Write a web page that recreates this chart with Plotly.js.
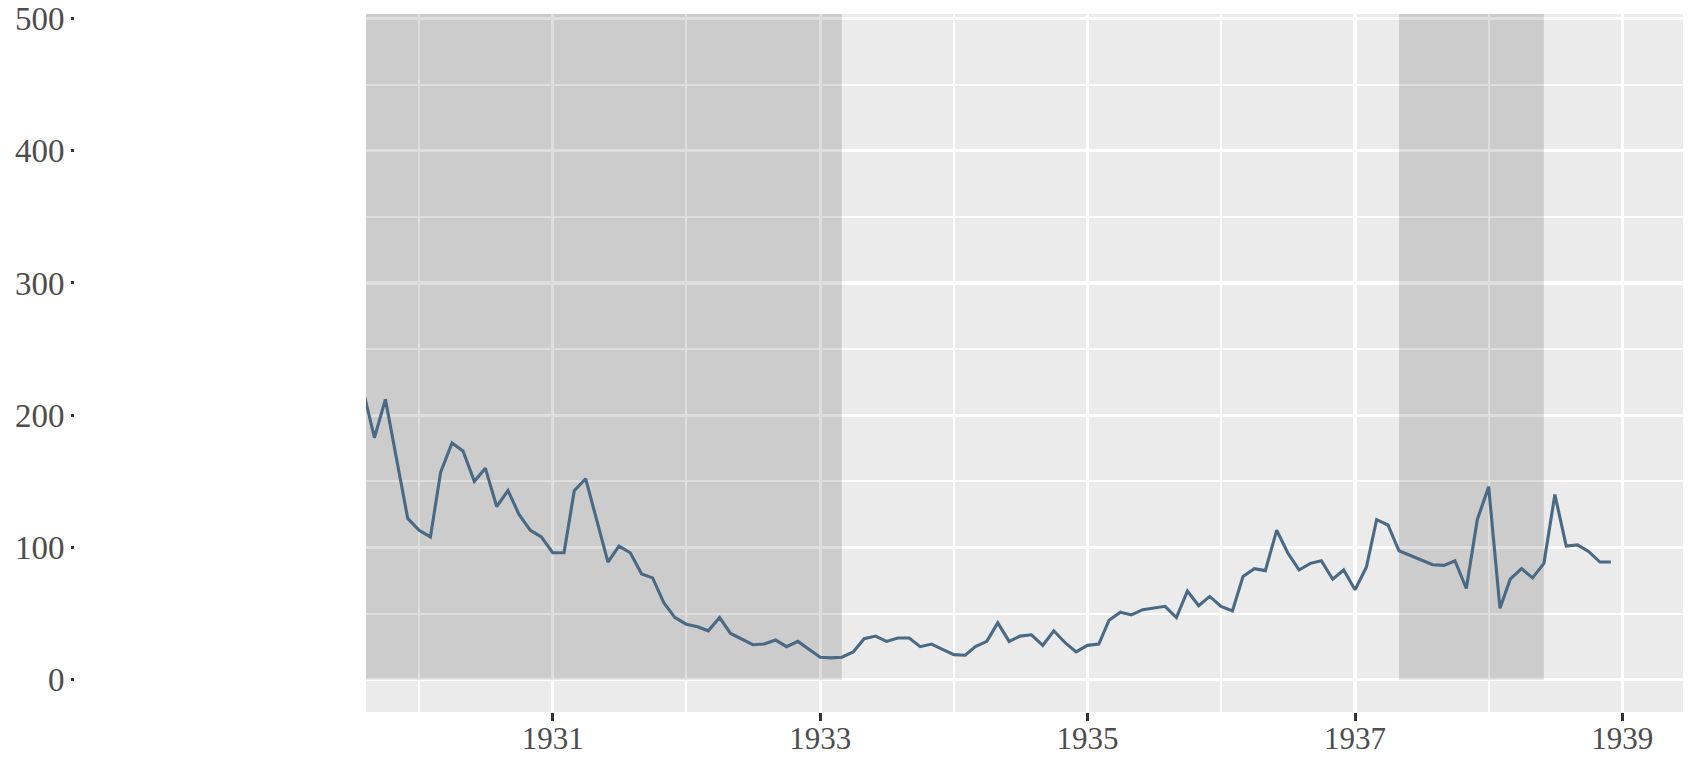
<!DOCTYPE html>
<html>
<head>
<meta charset="utf-8">
<script src="https://cdn.plot.ly/plotly-3.0.1.min.js"></script>
<style>
  html, body { margin: 0; padding: 0; background: #ffffff; }
  #chart { width: 1691px; height: 757px; }
</style>
</head>
<body>
<div id="chart"></div>
<script>
// ---- data ----
const months = [
  "1929-08","1929-09","1929-10","1929-11","1929-12",
  "1930-01","1930-02","1930-03","1930-04","1930-05","1930-06","1930-07","1930-08","1930-09","1930-10","1930-11","1930-12",
  "1931-01","1931-02","1931-03","1931-04","1931-05","1931-06","1931-07","1931-08","1931-09","1931-10","1931-11","1931-12",
  "1932-01","1932-02","1932-03","1932-04","1932-05","1932-06","1932-07","1932-08","1932-09","1932-10","1932-11","1932-12",
  "1933-01","1933-02","1933-03","1933-04","1933-05","1933-06","1933-07","1933-08","1933-09","1933-10","1933-11","1933-12",
  "1934-01","1934-02","1934-03","1934-04","1934-05","1934-06","1934-07","1934-08","1934-09","1934-10","1934-11","1934-12",
  "1935-01","1935-02","1935-03","1935-04","1935-05","1935-06","1935-07","1935-08","1935-09","1935-10","1935-11","1935-12",
  "1936-01","1936-02","1936-03","1936-04","1936-05","1936-06","1936-07","1936-08","1936-09","1936-10","1936-11","1936-12",
  "1937-01","1937-02","1937-03","1937-04","1937-05","1937-06","1937-07","1937-08","1937-09","1937-10","1937-11","1937-12",
  "1938-01","1938-02","1938-03","1938-04","1938-05","1938-06","1938-07","1938-08","1938-09","1938-10","1938-11","1938-12"
];
const values = [
  219, 183, 212, 167, 122,
  113, 108, 157, 179, 173, 150, 160, 131, 143, 125, 113, 108,
  96, 96, 143, 152, 121, 89, 101, 96, 80, 77, 58, 47,
  42, 40, 37, 47, 35, 31, 26.5, 27, 30, 25, 29, 23,
  17, 16.5, 17, 21, 31, 33, 29, 31.5, 31.5, 25, 27, 23,
  19, 18.5, 25, 29, 43, 29, 33, 34, 26, 37, 28, 21,
  26, 27, 45, 51, 49, 53, 54, 55.5, 47, 67, 56, 63,
  55.5, 52, 78, 84, 82.5, 113, 96, 83, 88, 90, 76, 83,
  68, 85, 121, 117, 97.5, 94, 90, 87, 86.5, 90, 69, 121,
  146, 54, 76, 84, 77, 88, 140, 101, 102, 97, 89, 89
];
// recession periods (peak -> trough)
const recessionStart = ["1929-08-01", "1937-05-01"];
const recessionEnd   = ["1933-03-01", "1938-06-01"];

// axes
const xTickVals  = ["1931-01-01", "1933-01-01", "1935-01-01", "1937-01-01", "1939-01-01"];
const xTickText  = ["1931", "1933", "1935", "1937", "1939"];
const xMinorVals = ["1930-01-01", "1932-01-01", "1934-01-01", "1936-01-01", "1938-01-01"];
const yTickVals  = [0, 100, 200, 300, 400, 500];
const yTickText  = ["0", "100", "200", "300", "400", "500"];
const yMinorVals = [50, 150, 250, 350, 450];
const xRange = ["1929-08-09", "1939-06-16"];
const yRange = [-24.4, 503.4];

// ---- figure ----
const fontFamily = '"Liberation Serif", "DejaVu Serif", serif';
const trace = {
  type: 'scatter',
  mode: 'lines',
  x: months,
  y: values,
  line: { color: '#4a6985', width: 3.1 },
  hoverinfo: 'skip',
  showlegend: false
};

const shapes = recessionStart.map((s, i) => ({
  type: 'rect',
  xref: 'x', yref: 'y',
  x0: s, x1: recessionEnd[i],
  y0: 0, y1: yRange[1],
  fillcolor: 'rgba(0,0,0,0.13)',
  line: { width: 0 },
  layer: 'between'
}));

const layout = {
  width: 1691,
  height: 757,
  margin: { l: 0, r: 8, t: 14, b: 45, pad: 0 },
  paper_bgcolor: '#ffffff',
  plot_bgcolor: '#ebebeb',
  showlegend: false,
  font: { family: fontFamily, color: '#4d4d4d', size: 31 },
  xaxis: {
    type: 'date',
    domain: [366 / 1683, 1],
    range: xRange,
    tickmode: 'array',
    tickvals: xTickVals,
    ticktext: xTickText,
    ticks: 'outside',
    ticklen: 8,
    tickwidth: 3,
    tickcolor: '#333333',
    ticklabelstandoff: -9,
    tickfont: { family: fontFamily, color: '#4d4d4d', size: 31 },
    showgrid: true,
    gridcolor: '#ffffff',
    gridwidth: 3.2,
    minor: {
      tickmode: 'array',
      tickvals: xMinorVals,
      showgrid: true,
      gridcolor: '#ffffff',
      gridwidth: 1.8,
      ticks: ''
    },
    showline: false,
    zeroline: false,
    automargin: false,
    fixedrange: true
  },
  yaxis: {
    anchor: 'free',
    position: 74 / 1683,
    range: yRange,
    tickmode: 'array',
    tickvals: yTickVals,
    ticktext: yTickText,
    ticks: 'outside',
    ticklen: 3,
    tickwidth: 3,
    tickcolor: '#333333',
    tickfont: { family: fontFamily, color: '#4d4d4d', size: 33 },
    showgrid: true,
    gridcolor: '#ffffff',
    gridwidth: 3.2,
    minor: {
      tickmode: 'array',
      tickvals: yMinorVals,
      showgrid: true,
      gridcolor: '#ffffff',
      gridwidth: 1.8,
      ticks: ''
    },
    showline: false,
    zeroline: false,
    automargin: false,
    fixedrange: true
  },
  shapes: shapes
};

Plotly.newPlot('chart', [trace], layout, { displayModeBar: false, staticPlot: true });
</script>
</body>
</html>
